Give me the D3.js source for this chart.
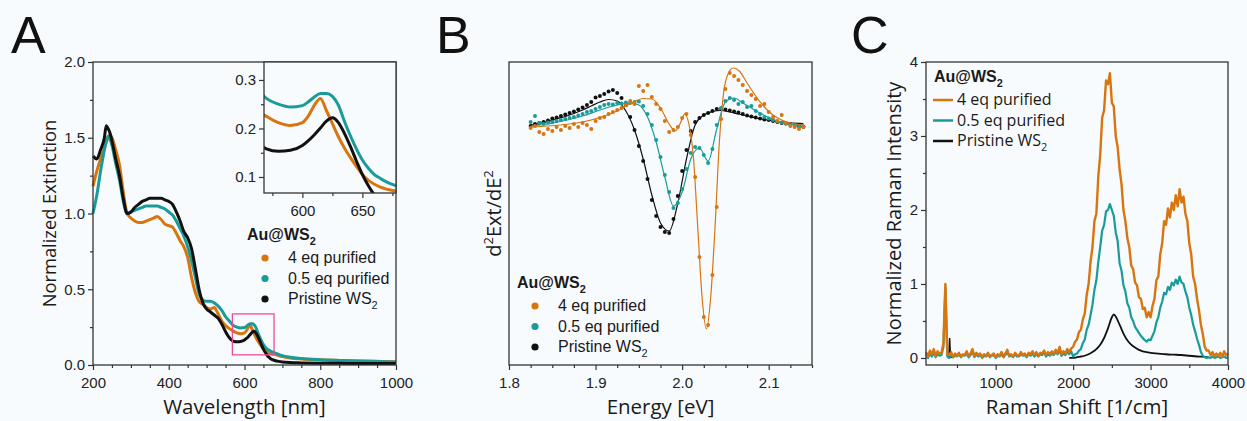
<!DOCTYPE html>
<html>
<head>
<meta charset="utf-8">
<script src="https://cdn.jsdelivr.net/npm/d3@7/dist/d3.min.js"></script>
<style>
  body { margin: 0; background: #f8fbfd; }
  svg { display: block; }
</style>
</head>
<body>
<svg id="chart" width="1247" height="421"></svg>
<script>
// ---------- data ----------
const legendTitle = 'Au@WS';
const seriesLabels = ['4 eq purified', '0.5 eq purified', 'Pristine WS'];
const seriesColors = ['#d8750f', '#1a9b9a', '#111111'];

// A: extinction spectra
const wavelength = [
  200, 210, 220, 230, 235, 240, 245, 250,
  260, 270, 280, 290, 300, 310, 320, 330, 340, 350,
  360, 370, 380, 390, 400, 410, 420, 430, 440, 450,
  460, 470, 480, 490, 500, 510, 520, 530, 540, 550,
  560, 570, 580, 590, 600, 605, 610, 615, 620, 625,
  630, 635, 640, 645, 650, 655, 660, 665, 670, 680,
  690, 700, 720, 750, 800, 850, 900, 950, 1000
];
const extOrange = [
  1.18, 1.28, 1.36, 1.43, 1.47, 1.50, 1.52, 1.50,
  1.42, 1.32, 1.14, 1.00, 0.97, 0.95, 0.94, 0.94, 0.95, 0.96,
  0.97, 0.98, 0.96, 0.93, 0.92, 0.91, 0.87, 0.82, 0.78, 0.71,
  0.58, 0.48, 0.42, 0.40, 0.38, 0.37, 0.38, 0.34, 0.29, 0.26,
  0.24, 0.225, 0.212, 0.206, 0.212, 0.226, 0.248, 0.262, 0.237, 0.21,
  0.183, 0.16, 0.14, 0.122, 0.105, 0.093, 0.085, 0.079, 0.075, 0.07,
  0.062, 0.055, 0.046, 0.04, 0.034, 0.03, 0.027, 0.024, 0.022
];
const extTeal = [
  1.00, 1.12, 1.28, 1.42, 1.48, 1.51, 1.49, 1.45,
  1.33, 1.22, 1.08, 1.00, 1.01, 1.02, 1.03, 1.04, 1.05, 1.05,
  1.05, 1.05, 1.04, 1.03, 1.01, 0.99, 0.95, 0.90, 0.85, 0.78,
  0.69, 0.58, 0.47, 0.43, 0.42, 0.42, 0.41, 0.39, 0.36, 0.32,
  0.29, 0.262, 0.25, 0.244, 0.247, 0.255, 0.265, 0.272, 0.272, 0.266,
  0.248, 0.215, 0.185, 0.158, 0.135, 0.118, 0.105, 0.097, 0.09, 0.08,
  0.07, 0.062, 0.052, 0.043, 0.035, 0.03, 0.026, 0.023, 0.02
];
const extBlack = [
  1.38, 1.36, 1.42, 1.50, 1.58, 1.56, 1.53, 1.48,
  1.36, 1.25, 1.10, 1.00, 1.01, 1.04, 1.06, 1.08, 1.09, 1.10,
  1.10, 1.10, 1.10, 1.09, 1.08, 1.06, 1.01, 0.95, 0.88, 0.84,
  0.77, 0.64, 0.50, 0.41, 0.37, 0.35, 0.33, 0.31, 0.27, 0.22,
  0.18, 0.158, 0.153, 0.155, 0.165, 0.175, 0.187, 0.201, 0.215, 0.222,
  0.212, 0.19, 0.163, 0.133, 0.105, 0.082, 0.063, 0.05, 0.04, 0.03,
  0.024, 0.02, 0.016, 0.014, 0.012, 0.011, 0.01, 0.01, 0.01
];
const insetWl = [568, 678];
const insetExt = [0.067, 0.337];

// B: second derivative, measured points (energy grid 1.825 .. 2.140 eV, step 0.005)
const energy = d3.range(1.825, 2.1401, 0.005);
const d2Orange = [
  -0.1, 0.1, -0.5, -0.7, -0.2, -0.4, 0.0, -0.3,
  0.1, -0.1, 0.3, 0.0, 0.4, 0.2, -0.2, 0.6,
  0.9, 1.0, 1.3, 1.5, 1.7, 1.9, 2.2, 2.6,
  2.3, 4.1, 3.6, 4.2, 3.0, 2.3, 1.8, 0.6,
  -0.5, -0.3, 0.0, 0.9, 1.3, -0.8, -5.0, -13.0,
  -19.0, -19.8, -14.8, -8.0, 0.8, 3.8, 5.4, 5.1,
  4.7, 4.2, 3.6, 3.2, 2.8, 2.1, 2.3, 1.5,
  1.0, 0.6, 1.2, 0.4, 0.1, 0.0, -0.2, 0.0
];
const d2Teal = [
  0.5, 1.1, 0.4, 0.3, 0.45, 0.5, 0.6, 0.7,
  0.8, 0.9, 1.0, 1.15, 1.3, 1.5, 1.6, 1.8,
  2.0, 2.2, 2.3, 2.25, 2.4, 2.35, 2.45, 2.4,
  2.5, 2.55, 2.1, 1.3, 0.2, -1.3, -3.0, -4.8,
  -6.5, -8.1, -7.6, -6.2, -4.2, -2.6, -2.0, -2.1,
  -2.8, -3.6, -2.2, 0.2, 1.9, 2.6, 2.9, 2.7,
  2.3, 2.5, 2.0, 2.1, 1.6, 1.3, 1.0, 0.85,
  0.7, 0.55, 0.45, 0.35, 0.25, 0.15, 0.05, 0.0
];
const d2Black = [
  0.1, 0.3, 0.4, 0.5, 0.65, 0.85, 0.95, 1.1,
  1.25, 1.4, 1.55, 1.75, 1.95, 2.2, 2.5, 2.95,
  3.1, 3.3, 3.55, 3.7, 3.4, 2.9, 2.2, 1.0,
  -0.3, -1.9, -3.4, -5.2, -7.3, -8.9, -10.0, -10.5,
  -10.6, -9.2, -6.9, -4.4, -2.3, -0.4, 0.5, 0.9,
  1.2, 1.4, 1.6, 1.8, 1.85, 1.75, 1.65, 1.55,
  1.45, 1.3, 1.15, 1.05, 0.95, 0.85, 0.75, 0.7,
  0.6, 0.5, 0.4, 0.35, 0.3, 0.2, 0.1, 0.05
];
// B: fitted curves
const fitOrangeE = [1.825, 1.845, 1.865, 1.885, 1.905, 1.925, 1.94, 1.955, 1.965, 1.975, 1.985, 1.992, 1.998, 2.003, 2.008, 2.013, 2.018, 2.023, 2.028, 2.033, 2.038, 2.043, 2.048, 2.053, 2.059, 2.066, 2.075, 2.085, 2.095, 2.105, 2.115, 2.125, 2.14];
const fitOrangeV = [0.0, 0.1, 0.25, 0.5, 0.95, 1.6, 2.3, 2.85, 2.8, 1.9, 0.3, -0.4, 0.4, 1.3, 0.2, -3.0, -10.0, -17.0, -20.2, -17.0, -10.0, -1.5, 3.5, 5.3, 5.9, 5.6, 4.4, 3.1, 2.0, 1.2, 0.7, 0.4, 0.2];
const fitTealE = [1.825, 1.845, 1.865, 1.885, 1.905, 1.925, 1.94, 1.95, 1.96, 1.97, 1.98, 1.99, 2.0, 2.01, 2.02, 2.03, 2.04, 2.05, 2.06, 2.07, 2.08, 2.09, 2.1, 2.11, 2.12, 2.14];
const fitTealV = [0.1, 0.3, 0.65, 1.1, 1.7, 2.2, 2.4, 2.2, 1.0, -1.5, -5.0, -7.9, -6.5, -3.2, -2.1, -3.4, -0.2, 2.5, 2.9, 2.4, 1.9, 1.4, 0.95, 0.6, 0.4, 0.2];
const fitBlackE = [1.825, 1.835, 1.845, 1.855, 1.865, 1.875, 1.885, 1.895, 1.905, 1.915, 1.925, 1.935, 1.945, 1.955, 1.965, 1.975, 1.985, 1.995, 2.005, 2.015, 2.025, 2.035, 2.045, 2.055, 2.065, 2.075, 2.085, 2.095, 2.105, 2.115, 2.125, 2.14];
const fitBlackV = [0.2, 0.35, 0.55, 0.8, 1.05, 1.35, 1.7, 2.1, 2.5, 2.75, 2.6, 1.6, -0.3, -3.2, -6.8, -9.6, -10.4, -7.6, -3.2, 0.2, 1.2, 1.55, 1.65, 1.5, 1.3, 1.1, 0.9, 0.75, 0.6, 0.5, 0.42, 0.35];

// C: Raman spectra (grid 100 .. 4000 1/cm, step 25)
const ramanShift = d3.range(100, 4001, 25);
const ramanOrange = [
  0.08, 0.02, 0.10, 0.05,  0.12, 0.03, 0.09, 0.06,  0.07, 0.20, 1.00, 0.05,
  0.04, 0.08, 0.01, 0.06,  0.03, 0.07, 0.02, 0.05,  0.04, 0.09, 0.03, 0.06,
  0.12, 0.02, 0.07, 0.04,  0.06, 0.01, 0.05, 0.03,  0.07, 0.02, 0.04, 0.06,
  0.01, 0.05, 0.03, 0.08,  0.02, 0.06, 0.11, 0.03,  0.05, 0.02, 0.07, 0.04,
  0.03, 0.08, 0.04, 0.06,  0.02, 0.07, 0.05, 0.09,  0.04, 0.08, 0.03, 0.07,
  0.06, 0.10, 0.04, 0.08,  0.05, 0.09, 0.06, 0.11,  0.07, 0.15, 0.05, 0.09,
  0.06, 0.12, 0.08, 0.13,
  0.15, 0.22, 0.25, 0.35,  0.38, 0.52, 0.60, 0.85,  1.00, 1.30, 1.50, 1.85,
  1.95, 2.45, 2.75, 3.25,  3.35, 3.75, 3.70, 3.85,  3.45, 3.40, 3.00, 2.85,
  2.55, 2.35, 2.00, 1.85,  1.62, 1.50, 1.25, 1.20,  1.02, 0.98, 0.82, 0.80,
  0.66, 0.68, 0.55, 0.62,
  0.55, 0.70, 0.80, 1.05,  1.10, 1.40, 1.55, 1.85,  1.80, 2.02, 1.90, 2.10,
  2.00, 2.20, 2.05, 2.28,  2.10, 2.18, 1.95, 1.85,  1.55, 1.40, 1.10, 1.00,
  0.80, 0.65, 0.45, 0.32,  0.15, 0.10, 0.10, 0.04,  0.08, 0.02, 0.06, 0.03,
  0.07, 0.01, 0.09, 0.04,
  0.06
];
const ramanTeal = [
  0.05, 0.00, 0.06, 0.02,  0.07, 0.01, 0.05, 0.03,  0.04, 0.15, 0.95, 0.02,
  0.00, 0.04, 0.01, 0.03,  0.02, 0.05, 0.01, 0.04,  0.03, 0.06, 0.01, 0.04,
  0.08, 0.01, 0.05, 0.02,  0.04, 0.00, 0.03, 0.02,  0.05, 0.01, 0.03, 0.04,
  0.00, 0.03, 0.02, 0.05,  0.01, 0.04, 0.08, 0.02,  0.03, 0.01, 0.05, 0.02,
  0.02, 0.05, 0.03, 0.04,  0.01, 0.05, 0.03, 0.06,  0.02, 0.05, 0.02, 0.05,
  0.04, 0.07, 0.02, 0.05,  0.03, 0.06, 0.04, 0.08,  0.05, 0.10, 0.03, 0.06,
  0.04, 0.08, 0.05, 0.09,
  0.02, 0.05, 0.06, 0.10,  0.12, 0.20, 0.25, 0.38,  0.45, 0.58, 0.72, 0.92,
  1.05, 1.30, 1.50, 1.72,  1.80, 1.98, 2.00, 2.08,  2.00, 1.92, 1.70, 1.58,
  1.28, 1.18, 0.98, 0.90,  0.74, 0.68, 0.55, 0.50,  0.42, 0.38, 0.34, 0.30,
  0.27, 0.24, 0.22, 0.25,
  0.24, 0.30, 0.36, 0.48,  0.55, 0.68, 0.76, 0.88,  0.86, 0.96, 0.92, 1.02,
  0.98, 1.06, 1.00, 1.10,  1.02, 1.00, 0.90, 0.82,  0.68, 0.58, 0.45, 0.36,
  0.26, 0.18, 0.08, 0.03,  0.01, 0.00, 0.01, 0.00,  0.02, 0.00, 0.01, 0.02,
  0.00, 0.01, 0.02, 0.00,
  0.01
];
const ramanBlackSpikeX = [380, 395, 405, 415, 430];
const ramanBlackSpikeY = [0.0, 0.02, 0.27, 0.02, 0.0];
const ramanBlackX = [1950, 2000, 2050, 2100, 2150, 2200, 2250, 2300, 2350, 2400, 2450, 2500, 2525, 2550, 2600, 2650, 2700, 2750, 2800, 2850, 2900, 2950, 3000, 3100, 3200, 3300, 3400, 3500, 3600, 3700, 3750];
const ramanBlackY = [0.0, 0.0, 0.01, 0.02, 0.03, 0.05, 0.08, 0.12, 0.18, 0.27, 0.40, 0.55, 0.59, 0.56, 0.45, 0.33, 0.24, 0.18, 0.14, 0.11, 0.09, 0.08, 0.07, 0.06, 0.05, 0.045, 0.04, 0.03, 0.02, 0.015, 0.01];

// ---------- drawing ----------
const svg = d3.select('#chart');
const font = '"Liberation Sans", Arial, sans-serif';
const titleFont = '"Open Sans", "Liberation Sans", sans-serif';
const bg = '#f8fbfd';
const ink = '#333';

function addAxis(g, side, scale, major, minor, fmt, h) {
  const mk = side === 'bottom' ? d3.axisBottom : d3.axisLeft;
  const tr = side === 'bottom' ? `translate(0,${h})` : null;
  const gMin = g.append('g').attr('transform', tr)
    .call(mk(scale).tickValues(minor).tickSize(3).tickFormat(''));
  const gMaj = g.append('g').attr('transform', tr)
    .call(mk(scale).tickValues(major).tickSize(5)
      .tickPadding(side === 'bottom' ? 7 : 3).tickFormat(fmt));
  [gMin, gMaj].forEach(a => {
    a.select('.domain').remove();
    a.selectAll('line').attr('stroke', ink).attr('stroke-width', 1.2);
  });
  gMaj.selectAll('text').attr('font-family', font).attr('font-size', 15).attr('fill', '#222');
}

function frame(g, w, h) {
  g.append('rect').attr('width', w).attr('height', h)
    .attr('fill', 'none').attr('stroke', ink).attr('stroke-width', 1.3);
}

function subText(t, main, sub, size) {
  t.append('tspan').text(main);
  t.append('tspan').text(sub).attr('font-size', size * 0.68).attr('dy', size * 0.3);
}

function panelLetter(letter, x) {
  svg.append('text').attr('x', x).attr('y', 53).text(letter)
    .attr('font-family', font).attr('font-size', 52).attr('fill', '#111');
}

function xTitle(g, w, text) {
  g.append('text').attr('x', w / 2).attr('y', 352).attr('text-anchor', 'middle')
    .attr('font-family', titleFont).attr('font-size', 20.5).attr('fill', '#1a1a1a').text(text);
}

function yTitleText(g, xOff, h, fs) {
  return g.append('text').attr('transform', `translate(${xOff},${h / 2}) rotate(-90)`)
    .attr('text-anchor', 'middle').attr('font-family', titleFont)
    .attr('font-size', fs).attr('fill', '#1a1a1a');
}

function legend(g, x, y, kind, fontFam) {
  subText(g.append('text').attr('x', x).attr('y', y).attr('font-family', font)
    .attr('font-size', 16).attr('font-weight', 'bold').attr('fill', '#1a1a1a'), legendTitle, '2', 16);
  seriesLabels.forEach((lab, i) => {
    const by = y + 23 + i * 20.5;
    if (kind === 'dot') {
      g.append('circle').attr('cx', x + 18).attr('cy', by - 5).attr('r', 3.6).attr('fill', seriesColors[i]);
    } else {
      g.append('line').attr('x1', x - 1).attr('x2', x + 19).attr('y1', by - 5).attr('y2', by - 5)
        .attr('stroke', seriesColors[i]).attr('stroke-width', 2.5);
    }
    const t = g.append('text').attr('x', kind === 'dot' ? x + 41 : x + 23).attr('y', by)
      .attr('font-family', fontFam).attr('font-size', 16).attr('fill', '#1a1a1a');
    if (i === 2) subText(t, lab, '2', 16); else t.text(lab);
  });
}

const size = { w: 303, h: 303 };

// ===== Panel A =====
panelLetter('A', 11);
const gA = svg.append('g').attr('transform', 'translate(93,62)');
const xA = d3.scaleLinear().domain([200, 1000]).range([0, size.w]);
const yA = d3.scaleLinear().domain([0, 2]).range([size.h, 0]);
const extSeries = [extOrange, extTeal, extBlack];
const lineA = d3.line().x(d => xA(d[0])).y(d => yA(d[1])).curve(d3.curveMonotoneX);
extSeries.forEach((vals, i) => {
  gA.append('path').datum(d3.zip(wavelength, vals)).attr('d', lineA)
    .attr('fill', 'none').attr('stroke', seriesColors[i]).attr('stroke-width', 3)
    .attr('stroke-linejoin', 'round');
});
// zoom box
gA.append('rect')
  .attr('x', xA(insetWl[0])).attr('y', yA(insetExt[1]))
  .attr('width', xA(insetWl[1]) - xA(insetWl[0])).attr('height', yA(insetExt[0]) - yA(insetExt[1]))
  .attr('fill', 'none').attr('stroke', '#ee4a9c').attr('stroke-width', 1.3);
addAxis(gA, 'bottom', xA, [200, 400, 600, 800, 1000], [300, 500, 700, 900, 250, 350, 450, 550, 650, 750, 850, 950], d3.format('d'), size.h);
addAxis(gA, 'left', yA, [0, 0.5, 1, 1.5, 2], [0.25, 0.75, 1.25, 1.75], d3.format('.1f'), size.h);
frame(gA, size.w, size.h);
xTitle(gA, size.w, 'Wavelength [nm]');
yTitleText(gA, -37, size.h, 18.3).text('Normalized Extinction');
legend(gA, 154, 178, 'dot', font);

// inset
const inW = 132, inH = 131;
const gI = svg.append('g').attr('transform', 'translate(264,62)');
const xI = d3.scaleLinear().domain(insetWl).range([0, inW]);
const yI = d3.scaleLinear().domain(insetExt).range([inH, 0]);
gI.append('rect').attr('width', inW).attr('height', inH).attr('fill', bg);
gI.append('clipPath').attr('id', 'clipI').append('rect').attr('width', inW).attr('height', inH);
const lineI = d3.line().x(d => xI(d[0])).y(d => yI(d[1])).curve(d3.curveMonotoneX);
const gIc = gI.append('g').attr('clip-path', 'url(#clipI)');
extSeries.forEach((vals, i) => {
  gIc.append('path').datum(d3.zip(wavelength, vals)).attr('d', lineI)
    .attr('fill', 'none').attr('stroke', seriesColors[i]).attr('stroke-width', 3);
});
addAxis(gI, 'bottom', xI, [600, 650], [575, 625, 675], d3.format('d'), inH);
addAxis(gI, 'left', yI, [0.1, 0.2, 0.3], [0.15, 0.25], d3.format('.1f'), inH);
frame(gI, inW, inH);

// ===== Panel B =====
panelLetter('B', 436);
const gB = svg.append('g').attr('transform', 'translate(509,62)');
const xB = d3.scaleLinear().domain([1.8, 2.15]).range([0, size.w]);
const yB = d3.scaleLinear().domain([-23.8, 6.5]).range([size.h, 0]);
const lineB = d3.line().x(d => xB(d[0])).y(d => yB(d[1])).curve(d3.curveMonotoneX);
const dotsB = [d2Black, d2Teal, d2Orange];
const fitsB = [[fitBlackE, fitBlackV], [fitTealE, fitTealV], [fitOrangeE, fitOrangeV]];
const orderB = [2, 1, 0];
orderB.forEach((ci, k) => {
  gB.append('g').selectAll('circle').data(d3.zip(energy, dotsB[k])).join('circle')
    .attr('cx', d => xB(d[0])).attr('cy', d => yB(d[1])).attr('r', 2)
    .attr('fill', seriesColors[ci]);
  gB.append('path').datum(d3.zip(fitsB[k][0], fitsB[k][1])).attr('d', lineB)
    .attr('fill', 'none').attr('stroke', seriesColors[ci]).attr('stroke-width', 1.2);
});
addAxis(gB, 'bottom', xB, [1.8, 1.9, 2.0, 2.1], [1.825, 1.85, 1.875, 1.925, 1.95, 1.975, 2.025, 2.05, 2.075, 2.125, 2.15], d3.format('.1f'), size.h);
frame(gB, size.w, size.h);
xTitle(gB, size.w, 'Energy [eV]');
const tB = yTitleText(gB, -8, size.h, 20);
tB.append('tspan').text('d');
tB.append('tspan').text('2').attr('font-size', 13).attr('dy', -8);
tB.append('tspan').text('Ext/dE').attr('dy', 8);
tB.append('tspan').text('2').attr('font-size', 13).attr('dy', -8);
legend(gB, 8, 226, 'dot', font);

// ===== Panel C =====
panelLetter('C', 851);
const wC = 302;
const gC = svg.append('g').attr('transform', 'translate(926,62)');
const xC = d3.scaleLinear().domain([100, 4000]).range([0, wC]);
const yC = d3.scaleLinear().domain([-0.095, 4]).range([size.h, 0]);
const lineC = d3.line().x(d => xC(d[0])).y(d => yC(d[1]));
gC.append('path').datum(d3.zip(ramanBlackSpikeX, ramanBlackSpikeY)).attr('d', lineC)
  .attr('fill', 'none').attr('stroke', seriesColors[2]).attr('stroke-width', 1.5);
gC.append('path').datum(d3.zip(ramanBlackX, ramanBlackY)).attr('d', lineC.curve(d3.curveMonotoneX))
  .attr('fill', 'none').attr('stroke', seriesColors[2]).attr('stroke-width', 1.8);
lineC.curve(d3.curveLinear);
gC.append('path').datum(d3.zip(ramanShift, ramanTeal)).attr('d', lineC)
  .attr('fill', 'none').attr('stroke', seriesColors[1]).attr('stroke-width', 2.2)
  .attr('stroke-linejoin', 'round');
gC.append('path').datum(d3.zip(ramanShift, ramanOrange)).attr('d', lineC)
  .attr('fill', 'none').attr('stroke', seriesColors[0]).attr('stroke-width', 2.4)
  .attr('stroke-linejoin', 'round');
addAxis(gC, 'bottom', xC, [1000, 2000, 3000, 4000], [500, 1500, 2500, 3500], d3.format('d'), size.h);
addAxis(gC, 'left', yC, [0, 1, 2, 3, 4], [0.5, 1.5, 2.5, 3.5], d3.format('d'), size.h);
frame(gC, wC, size.h);
xTitle(gC, wC, 'Raman Shift [1/cm]');
yTitleText(gC, -25, size.h, 20).text('Normalized Raman Intensity');
legend(gC, 8, 20, 'line', titleFont);
</script>
</body>
</html>
